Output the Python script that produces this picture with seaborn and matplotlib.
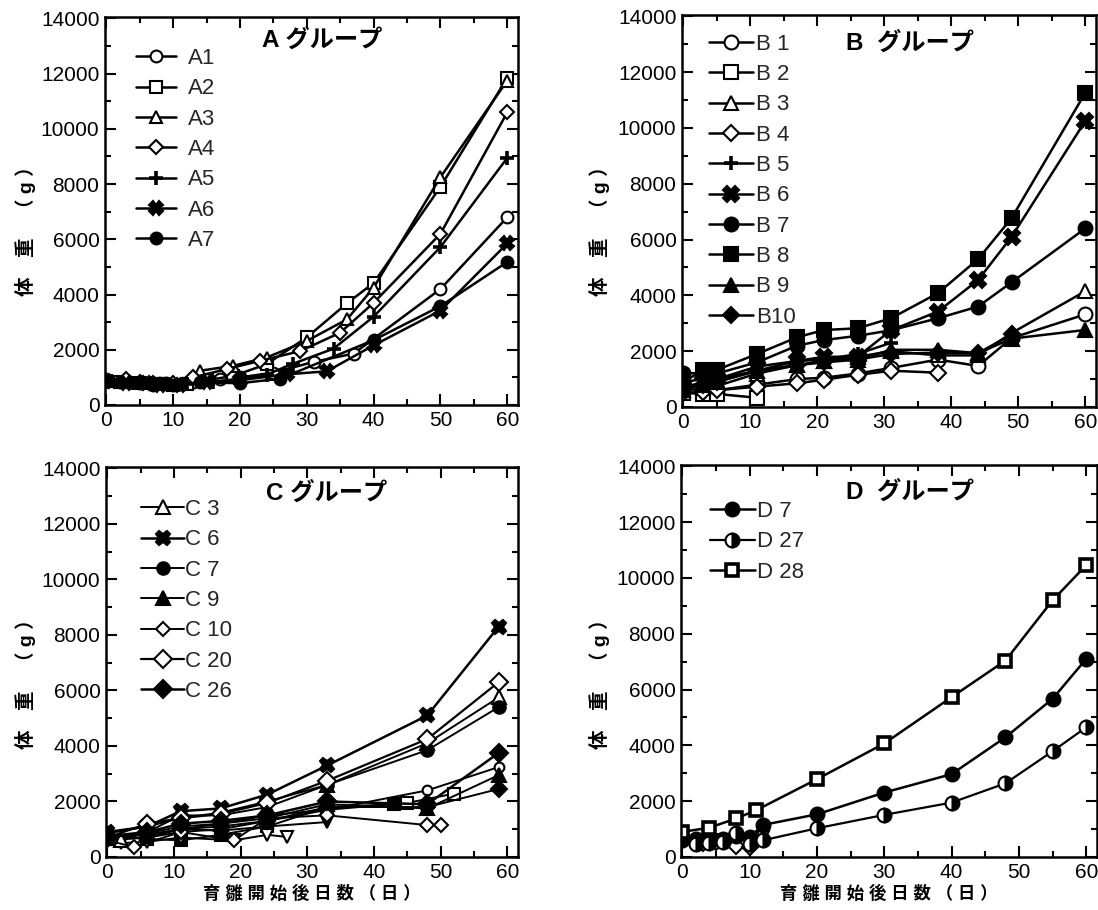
import matplotlib
matplotlib.use('Agg')
import matplotlib.pyplot as plt
import seaborn as sns
from matplotlib.ticker import MultipleLocator

# ---------------- data ----------------
# Panel A
A1_x = [0, 3, 5, 7, 9, 11, 13, 17, 20, 25, 31, 37, 50, 60]
A1_y = [880, 900, 820, 800, 780, 760, 820, 950, 1000, 1170, 1560, 1860, 4200, 6800]
A2_x = [0, 2, 5, 8, 10, 12, 15, 19, 24, 30, 36, 40, 50, 60]
A2_y = [860, 840, 800, 760, 730, 760, 900, 1050, 1480, 2450, 3680, 4420, 7900, 11850]
A3_x = [0, 3, 6, 8, 10, 14, 19, 24, 30, 36, 40, 50, 60]
A3_y = [880, 850, 800, 780, 760, 1240, 1420, 1720, 2320, 3100, 4250, 8250, 11750]
A4_x = [0, 3, 5, 7, 10, 13, 18, 23, 29, 35, 40, 50, 60]
A4_y = [900, 950, 830, 800, 790, 1000, 1300, 1600, 1950, 2620, 3700, 6200, 10600]
A5_x = [0, 2, 4, 7, 9, 12, 16, 20, 24, 28, 34, 40, 50, 60]
A5_y = [850, 830, 800, 780, 750, 760, 850, 950, 1100, 1500, 2040, 3200, 5720, 8950]
A6_x = [0, 3, 6, 8, 11, 15, 20, 27, 33, 40, 50, 60]
A6_y = [860, 800, 780, 720, 740, 820, 900, 1110, 1220, 2160, 3420, 5850]
A7_x = [0, 2, 5, 7, 10, 14, 20, 26, 40, 50, 60]
A7_y = [880, 850, 800, 740, 720, 820, 790, 950, 2350, 3580, 5180]

# Panel B
B_days = [0, 3, 5, 11, 17, 21, 26, 31, 38, 44, 49, 60]
B1_y = [700, 550, 600, 800, 1000, 1050, 1200, 1400, 1700, 1470, 2470, 3320]
B2_x = [0, 3, 5, 11]
B2_y = [500, 480, 470, 330]
B3_y = [800, 700, 750, 1200, 1500, 1650, 1800, 2000, 1850, 1850, 2650, 4150]
B4_x = [0, 3, 5, 11, 17, 21, 26, 31, 38]
B4_y = [500, 550, 600, 730, 850, 980, 1150, 1300, 1230]
B5_x = [0, 3, 5, 11, 17, 21, 26, 31]
B5_y = [900, 1000, 1000, 1300, 1650, 1700, 1900, 2300]
B6_y = [700, 900, 1000, 1450, 1650, 1800, 1800, 2750, 3420, 4550, 6100, 10250]
B7_y = [1220, 1200, 1200, 1600, 2200, 2400, 2550, 2750, 3180, 3600, 4470, 6400]
B8_y = [900, 1330, 1330, 1900, 2500, 2760, 2820, 3180, 4080, 5300, 6770, 11260]
B9_y = [600, 800, 900, 1300, 1500, 1650, 1700, 2050, 2050, 1930, 2450, 2760]
B10_x = [0, 3, 5, 11, 17, 21, 26, 31, 38, 44, 49]
B10_y = [700, 800, 900, 1300, 1500, 1600, 1700, 1900, 1950, 1930, 2600]

# Panel C
C_days = [0, 6, 11, 17, 24, 33, 48, 58.7]
C3_x = [0, 2, 6, 11, 17, 24, 33, 48, 58.7]
C3_y = [700, 600, 900, 1500, 1500, 1800, 2600, 4100, 5750]
C6_y = [900, 1100, 1650, 1750, 2250, 3300, 5100, 8300]
C7_y = [850, 1100, 1400, 1600, 2000, 2600, 3850, 5400]
C9_y = [700, 850, 1100, 1200, 1400, 1900, 1750, 2950]
C10_x = [0, 4, 11, 19, 24, 33, 48, 50]
C10_y = [600, 360, 900, 600, 1400, 1500, 1150, 1150]
C20_y = [700, 1200, 1400, 1550, 1950, 2750, 4250, 6300]
C26_y = [750, 900, 1200, 1300, 1500, 2000, 1900, 3750]
Cs_x = [0, 6, 11, 17, 24, 33, 45, 52]           # unlabeled open square
Cs_y = [650, 700, 900, 1000, 1300, 1700, 1950, 2280]
Cfs_x = [0, 6, 11, 17, 24, 33, 43]             # unlabeled filled square
Cfs_y = [800, 650, 600, 800, 1100, 1800, 1900]
Cv1_x = [0, 6, 11, 17, 24, 33]                  # unlabeled down triangle
Cv1_y = [750, 800, 1000, 950, 1100, 1260]
Cv2_x = [2, 6, 11, 19, 24, 27]
Cv2_y = [500, 550, 700, 600, 800, 720]
Co_y = [600, 700, 1000, 1200, 1500, 1700, 2400, 3240]   # unlabeled small circle
Cd_y = [700, 800, 1000, 1100, 1300, 1800, 1800, 2450]   # unlabeled filled diamond

# Panel D
D_days = [0, 2, 4, 6, 8, 10, 12, 20, 30, 40, 48, 55, 60]
D7_y = [700, 650, 700, 650, 750, 700, 1150, 1530, 2310, 2970, 4290, 5670, 7100]
D27_y = [600, 450, 500, 550, 850, 450, 600, 1030, 1510, 1950, 2640, 3790, 4650]
D28_x = [0, 4, 8, 11, 20, 30, 40, 48, 55, 60]
D28_y = [900, 1050, 1380, 1680, 2790, 4070, 5730, 7040, 9200, 10460]
Dv_x = [0, 2, 4, 6, 8, 10, 12]
Dv_y = [600, 500, 520, 600, 650, 600, 700]
Dd_x = [0, 3, 5, 8, 10]
Dd_y = [600, 500, 550, 400, 350]

YTICKS = [0, 2000, 4000, 6000, 8000, 10000, 12000, 14000]
XTICKS = [0, 10, 20, 30, 40, 50, 60]

# ---------------- style ----------------
sns.set_theme(style='ticks')
plt.rcParams['font.family'] = ['Liberation Sans', 'Noto Sans CJK JP', 'DejaVu Sans']
plt.rcParams['axes.linewidth'] = 1.6

fig = plt.figure(figsize=(10.98, 9.10), dpi=100)
W, H = 1098, 910


def make_ax(l, t, r, b):
    return fig.add_axes([l / W, 1 - b / H, (r - l) / W, (b - t) / H])


axA = make_ax(105, 17, 518, 405)
axB = make_ax(682, 15, 1096, 407)
axC = make_ax(106, 467, 518, 857)
axD = make_ax(681, 465, 1097, 857)


def draw(ax, x, y, label, marker, face='white', ms=8.5, mew=1.5, lw=1.8, **kw):
    sns.lineplot(x=x, y=y, ax=ax, sort=False, estimator=None, color='black',
                 linewidth=lw, marker=marker, markersize=ms, markerfacecolor=face,
                 markeredgecolor='black', markeredgewidth=mew, label=label, **kw)


NL = '_nolegend_'
# A
draw(axA, A1_x, A1_y, 'A1', 'o')
draw(axA, A2_x, A2_y, 'A2', 's', ms=8)
draw(axA, A3_x, A3_y, 'A3', '^', ms=9)
draw(axA, A4_x, A4_y, 'A4', 'D', ms=7.5)
draw(axA, A5_x, A5_y, 'A5', '+', ms=10, mew=2.6)
draw(axA, A6_x, A6_y, 'A6', 'X', face='black', ms=10)
draw(axA, A7_x, A7_y, 'A7', 'o', face='black')

# B
draw(axB, B_days, B1_y, 'B 1', 'o', ms=10)
draw(axB, B2_x, B2_y, 'B 2', 's', ms=9.5)
draw(axB, B_days, B3_y, 'B 3', '^', ms=10.5)
draw(axB, B4_x, B4_y, 'B 4', 'D', ms=8.5)
draw(axB, B5_x, B5_y, 'B 5', '+', ms=10, mew=2.6)
draw(axB, B_days, B6_y, 'B 6', 'X', face='black', ms=11)
draw(axB, B_days, B7_y, 'B 7', 'o', face='black', ms=10)
draw(axB, B_days, B8_y, 'B 8', 's', face='black', ms=10)
draw(axB, B_days, B9_y, 'B 9', '^', face='black', ms=10.5)
draw(axB, B10_x, B10_y, 'B10', 'D', face='black', ms=8.5)

# C
draw(axC, Cs_x, Cs_y, NL, 's', ms=9, lw=1.4)
draw(axC, Cfs_x, Cfs_y, NL, 's', face='black', ms=9, lw=1.4)
draw(axC, Cv1_x, Cv1_y, NL, 'v', face='black', ms=9, lw=1.4)
draw(axC, Cv2_x, Cv2_y, NL, 'v', ms=9, lw=1.4)
draw(axC, C_days, Co_y, NL, 'o', ms=7, lw=1.4)
draw(axC, C_days, Cd_y, NL, 'D', face='black', ms=8, lw=1.4)
draw(axC, C3_x, C3_y, 'C 3', '^', ms=9.5, lw=1.4)
draw(axC, C_days, C6_y, 'C 6', 'X', face='black', ms=10.5)
draw(axC, C_days, C7_y, 'C 7', 'o', face='black', ms=9, lw=1.4)
draw(axC, C_days, C9_y, 'C 9', '^', face='black', ms=9.5, lw=1.4)
draw(axC, C10_x, C10_y, 'C 10', 'D', ms=7.5, lw=1.4)
draw(axC, C_days, C20_y, 'C 20', 'D', ms=9, lw=1.6)
draw(axC, C_days, C26_y, 'C 26', 'D', face='black', ms=9)

# D
draw(axD, Dv_x, Dv_y, NL, 'v', ms=9, lw=1.4)
draw(axD, Dd_x, Dd_y, NL, 'D', ms=8, lw=1.4)
draw(axD, D_days, D7_y, 'D 7', 'o', face='black', ms=10)
draw(axD, D_days, D27_y, 'D 27', 'o', face='black', ms=10, lw=1.6,
     fillstyle='right', markerfacecoloralt='white')
draw(axD, D28_x, D28_y, 'D 28', 's', ms=9, mew=2.6)

# ---------------- axes cosmetics ----------------
for ax in (axA, axB, axC, axD):
    ax.set_xlim(-0.2, 61.6)
    ax.set_ylim(0, 14050)
    ax.set_xticks(XTICKS)
    ax.set_yticks(YTICKS)
    ax.xaxis.set_minor_locator(MultipleLocator(5))
    ax.yaxis.set_minor_locator(MultipleLocator(1000))
    ax.tick_params(which='both', direction='in', top=True, right=True,
                   color='black', width=1.5, labelsize=15, labelcolor='black')
    ax.tick_params(which='major', length=8, pad=4)
    ax.tick_params(which='minor', length=4)
    ax.set_xlabel('')
    ax.set_ylabel('')
    for s in ax.spines.values():
        s.set_color('black')
        s.set_linewidth(1.8)
    ax.set_facecolor('white')

leg_cfg = {
    axA: dict(anchor=(0.075, 0.92), hl=1.8, tp=0.55),
    axB: dict(anchor=(0.065, 0.952), hl=2.0, tp=0.12),
    axC: dict(anchor=(0.085, 0.918), hl=1.95, tp=0.05),
    axD: dict(anchor=(0.07, 0.908), hl=2.0, tp=0.12),
}
for ax, cfg in leg_cfg.items():
    ax.legend(loc='upper left', bbox_to_anchor=cfg['anchor'], frameon=False,
              handlelength=cfg['hl'], handletextpad=cfg['tp'], labelspacing=0.42,
              fontsize=16, borderaxespad=0, borderpad=0, numpoints=1)

titles = [(axA, 0.525, 0.94, 'A グループ'), (axB, 0.55, 0.929, 'B  グループ'),
          (axC, 0.536, 0.933, 'C グループ'), (axD, 0.55, 0.931, 'D  グループ')]
for ax, tx, ty, t in titles:
    ax.text(tx, ty, t, transform=ax.transAxes, ha='center', va='center',
            fontsize=17.5, fontweight='bold', color='black')

ylab = '体　重　（ g ）'
for x, y in [(25, 226), (600, 226), (25, 679), (600, 679)]:
    fig.text(x / W, 1 - y / H, ylab, rotation=90, ha='center', va='center',
             fontsize=14, fontweight='bold', color='black')

xlab = '育 雛 開 始 後 日 数 （ 日 ）'
for x in (312, 889):
    fig.text(x / W, 1 - 893 / H, xlab, ha='center', va='center',
             fontsize=12.5, fontweight='bold', color='black')

fig.savefig('out.png', dpi=100, facecolor='white')
